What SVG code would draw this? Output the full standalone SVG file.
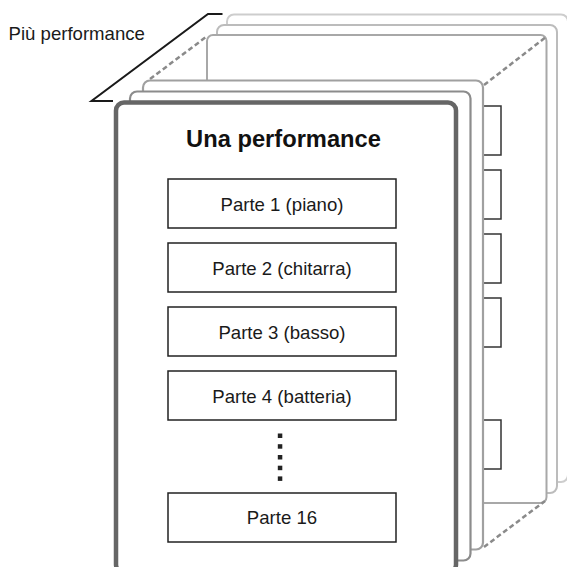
<svg xmlns="http://www.w3.org/2000/svg" width="567" height="567" viewBox="0 0 567 567">
<style>
.lbl{font-family:"Liberation Sans",Arial,sans-serif;font-size:18.6px;fill:#1a1a1a;text-anchor:middle}
.title{font-family:"Liberation Sans",Arial,sans-serif;font-size:23.7px;font-weight:bold;fill:#111;text-anchor:middle}
.part{fill:#fff;stroke:#222;stroke-width:1.5}
.tab{fill:#fff;stroke:#333;stroke-width:1.5}
.dash{fill:none;stroke:#8a8a8a;stroke-width:2.5;stroke-dasharray:5 3}
.dot{fill:#222}
</style>
<rect width="567" height="567" fill="#fff"/>
<g id="back-cards">
<rect x="227" y="14.5" width="341" height="467.5" rx="7" fill="#fff" stroke="#cdcdcd" stroke-width="2"/>
<rect x="217" y="25" width="340" height="468" rx="7" fill="#fff" stroke="#bcbcbc" stroke-width="2"/>
<rect x="207" y="35" width="339.5" height="468" rx="6" fill="#fff" stroke="#a8a8a8" stroke-width="2"/>
</g>
<g id="connectors">
<line class="dash" x1="150" y1="79" x2="206" y2="37"/>
<line class="dash" x1="484" y1="85" x2="546" y2="37"/>
<line class="dash" x1="484" y1="547" x2="545" y2="501"/>
<polyline points="222.5,14 208,14 91.5,101 113,101" fill="none" stroke="#1a1a1a" stroke-width="2"/>
</g>
<g id="card3">
<rect x="483" y="106" width="18" height="49" class="tab"/>
<rect x="483" y="170" width="18" height="49" class="tab"/>
<rect x="483" y="234" width="18" height="49" class="tab"/>
<rect x="483" y="298" width="18" height="49" class="tab"/>
<rect x="483" y="420" width="18" height="49" class="tab"/>
<rect x="143" y="80.5" width="340" height="469" rx="7" fill="#fff" stroke="#a0a0a0" stroke-width="2.2"/>
</g>
<g id="card2">
<rect x="130" y="91.5" width="340.5" height="469" rx="7" fill="#fff" stroke="#8c8c8c" stroke-width="2.2"/>
</g>
<g id="front-card">
<rect x="116" y="102.5" width="340" height="470" rx="8" fill="#fff" stroke="#666" stroke-width="4.5"/>
<text x="283.5" y="146.5" class="title">Una performance</text>
</g>
<g id="part1"><rect x="168" y="179" width="228" height="49" class="part"/><text x="282" y="210.5" class="lbl">Parte 1 (piano)</text></g>
<g id="part2"><rect x="168" y="243" width="228" height="49" class="part"/><text x="282" y="274.5" class="lbl">Parte 2 (chitarra)</text></g>
<g id="part3"><rect x="168" y="307" width="228" height="49" class="part"/><text x="282" y="338.5" class="lbl">Parte 3 (basso)</text></g>
<g id="part4"><rect x="168" y="371" width="228" height="49" class="part"/><text x="282" y="402.5" class="lbl">Parte 4 (batteria)</text></g>
<g id="ellipsis">
<rect class="dot" x="277.8" y="433.5" width="4.5" height="4.5"/>
<rect class="dot" x="277.8" y="444.2" width="4.5" height="4.5"/>
<rect class="dot" x="277.8" y="455" width="4.5" height="4.5"/>
<rect class="dot" x="277.8" y="465.7" width="4.5" height="4.5"/>
<rect class="dot" x="277.8" y="476.4" width="4.5" height="4.5"/>
</g>
<g id="part16"><rect x="168" y="493" width="228" height="49" class="part"/><text x="282" y="524" class="lbl">Parte 16</text></g>
<g id="label-more"><text x="8.5" y="40" class="lbl" style="text-anchor:start">Più performance</text></g>
</svg>
